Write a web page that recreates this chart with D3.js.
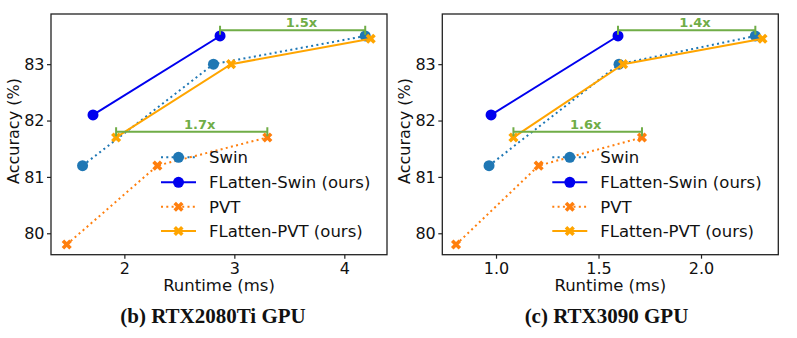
<!DOCTYPE html>
<html>
<head>
<meta charset="utf-8">
<script src="https://cdn.jsdelivr.net/npm/d3@7"></script>
<style>
body { margin: 0; background: #fff; }
text { font-family: "DejaVu Sans", sans-serif; }
</style>
</head>
<body>
<script>
// accuracy (%) per model size, same on both GPUs
var seriesNames = ["Swin", "FLatten-Swin (ours)", "PVT", "FLatten-PVT (ours)"];
var accSwin = [81.2, 83.0, 83.5];
var accFlatSwin = [82.1, 83.5];
var accPvt = [79.8, 81.2, 81.7];
var accFlatPvt = [81.7, 83.0, 83.45];

// runtime (ms) on RTX2080Ti
var rt2080Swin = [1.62, 2.81, 4.19];
var rt2080FlatSwin = [1.715, 2.87];
var rt2080Pvt = [1.476, 2.30, 3.30];
var rt2080FlatPvt = [1.925, 2.97, 4.24];

// runtime (ms) on RTX3090
var rt3090Swin = [0.966, 1.60, 2.265];
var rt3090FlatSwin = [0.976, 1.595];
var rt3090Pvt = [0.805, 1.208, 1.712];
var rt3090FlatPvt = [1.085, 1.62, 2.30];

// speed-up brackets
var speedAcc = [83.6, 81.8];
var speed2080Labels = ["1.5x", "1.7x"];
var speed2080From = [2.87, 1.925];
var speed2080To = [4.19, 3.30];
var speed2080LabelX = [3.61, 2.685];
var speed3090Labels = ["1.4x", "1.6x"];
var speed3090From = [1.595, 1.085];
var speed3090To = [2.265, 1.712];
var speed3090LabelX = [1.971, 1.438];

var xTicks2080 = [2, 3, 4];
var xTicks3090 = [1.0, 1.5, 2.0];
var yTicks = [80, 81, 82, 83];

var styles = [
	{ color: "#1f77b4", dash: "2,3.3", marker: "circle" },
	{ color: "#0000ee", dash: null, marker: "circle" },
	{ color: "#ff7f0e", dash: "2,3.3", marker: "x" },
	{ color: "#ffa500", dash: null, marker: "x" }
];
var green = "#70ad47";

var svg = d3.select("body")
	.append("svg")
	.attr("width", 797)
	.attr("height", 338);

var y = d3.scaleLinear().domain([79.62, 83.89]).range([254.7, 14]);

var panels = [
	{
		left: 51, right: 387, domain: [1.333, 4.388], ticks: xTicks2080, fmt: d3.format("d"),
		caption: "(b) RTX2080Ti GPU", captionX: 213,
		xs: [rt2080Swin, rt2080FlatSwin, rt2080Pvt, rt2080FlatPvt],
		sp: { labels: speed2080Labels, from: speed2080From, to: speed2080To, lx: speed2080LabelX }
	},
	{
		left: 442.3, right: 778.3, domain: [0.738, 2.377], ticks: xTicks3090, fmt: d3.format(".1f"),
		caption: "(c) RTX3090 GPU", captionX: 606.5,
		xs: [rt3090Swin, rt3090FlatSwin, rt3090Pvt, rt3090FlatPvt],
		sp: { labels: speed3090Labels, from: speed3090From, to: speed3090To, lx: speed3090LabelX }
	}
];
var accs = [accSwin, accFlatSwin, accPvt, accFlatPvt];

function drawMarker(g, kind, cx, cy, color) {
	if (kind === "circle") {
		g.append("circle")
			.attr("cx", cx)
			.attr("cy", cy)
			.attr("r", 5.5)
			.attr("fill", color);
	} else {
		g.append("path")
			.attr("d", d3.symbol().type(d3.symbolCross).size(64)())
			.attr("transform", "translate(" + cx + "," + cy + ")rotate(45)")
			.attr("fill", color);
	}
}

panels.forEach(function (p) {
	var x = d3.scaleLinear().domain(p.domain).range([p.left, p.right]);
	var g = svg.append("g");

	// axes
	var ax = g.append("g")
		.attr("transform", "translate(0," + y.range()[0] + ")")
		.call(d3.axisBottom(x).tickValues(p.ticks).tickFormat(p.fmt).tickSize(4).tickPadding(3.5));
	var ay = g.append("g")
		.attr("transform", "translate(" + p.left + ",0)")
		.call(d3.axisLeft(y).tickValues(yTicks).tickFormat(d3.format("d")).tickSize(4).tickPadding(2.5));
	[ax, ay].forEach(function (a) {
		a.attr("font-size", null).attr("font-family", null);
		a.select(".domain").remove();
		a.selectAll("line").attr("stroke", "#222").attr("stroke-width", 1.2);
		a.selectAll("text")
			.attr("fill", "#111")
			.attr("font-size", "16px");
	});

	g.append("text")
		.attr("x", (p.left + p.right) / 2)
		.attr("y", 291)
		.attr("text-anchor", "middle")
		.attr("font-size", "16.5px")
		.attr("fill", "#111")
		.text("Runtime (ms)");

	g.append("text")
		.attr("transform", "translate(" + (p.left - 38) + ",131)rotate(-90)")
		.attr("dy", "0.35em")
		.attr("text-anchor", "middle")
		.attr("font-size", "16px")
		.attr("fill", "#111")
		.text("Accuracy (%)");

	g.append("text")
		.attr("x", p.captionX)
		.attr("y", 323)
		.attr("text-anchor", "middle")
		.attr("font-size", "21px")
		.attr("font-weight", "bold")
		.style("font-family", "'Liberation Serif', 'Times New Roman', serif")
		.attr("fill", "#111")
		.text(p.caption);

	// series
	var line = d3.line().x(function (d) { return x(d[0]); }).y(function (d) { return y(d[1]); });
	p.xs.forEach(function (xs, i) {
		var pts = xs.map(function (v, j) { return [v, accs[i][j]]; });
		var s = styles[i];
		g.append("path")
			.attr("d", line(pts))
			.attr("fill", "none")
			.attr("stroke", s.color)
			.attr("stroke-width", 2)
			.attr("stroke-dasharray", s.dash);
		pts.forEach(function (d) {
			drawMarker(g, s.marker, x(d[0]), y(d[1]), s.color);
		});
	});

	// speed-up brackets
	p.sp.labels.forEach(function (lab, i) {
		var x0 = x(p.sp.from[i]), x1 = x(p.sp.to[i]), yy = y(speedAcc[i]);
		g.append("path")
			.attr("d", ["M", x0, yy, "L", x1, yy, "M", x0, yy - 4.5, "L", x0, yy + 4.5, "M", x1, yy - 4.5, "L", x1, yy + 4.5].join(" "))
			.attr("fill", "none")
			.attr("stroke", green)
			.attr("stroke-width", 2);
		g.append("text")
			.attr("x", x(p.sp.lx[i]))
			.attr("y", yy - 3)
			.attr("text-anchor", "middle")
			.attr("font-size", "13px")
			.attr("font-weight", "bold")
			.attr("fill", green)
			.text(lab);
	});

	// legend
	var legY = [157.3, 182.3, 206.7, 231];
	seriesNames.forEach(function (name, i) {
		var s = styles[i];
		var lg = g.append("g");
		lg.append("line")
			.attr("x1", p.left + 110)
			.attr("x2", p.left + 145)
			.attr("y1", legY[i])
			.attr("y2", legY[i])
			.attr("stroke", s.color)
			.attr("stroke-width", 2)
			.attr("stroke-dasharray", s.dash);
		drawMarker(lg, s.marker, p.left + 127.5, legY[i], s.color);
		lg.append("text")
			.attr("x", p.left + 158)
			.attr("y", legY[i])
			.attr("dy", "0.36em")
			.attr("font-size", "16.5px")
			.attr("fill", "#111")
			.text(name);
	});

	// frame
	g.append("rect")
		.attr("x", p.left)
		.attr("y", y.range()[1])
		.attr("width", p.right - p.left)
		.attr("height", y.range()[0] - y.range()[1])
		.attr("fill", "none")
		.attr("stroke", "#222")
		.attr("stroke-width", 1.3);
});
</script>
</body>
</html>
